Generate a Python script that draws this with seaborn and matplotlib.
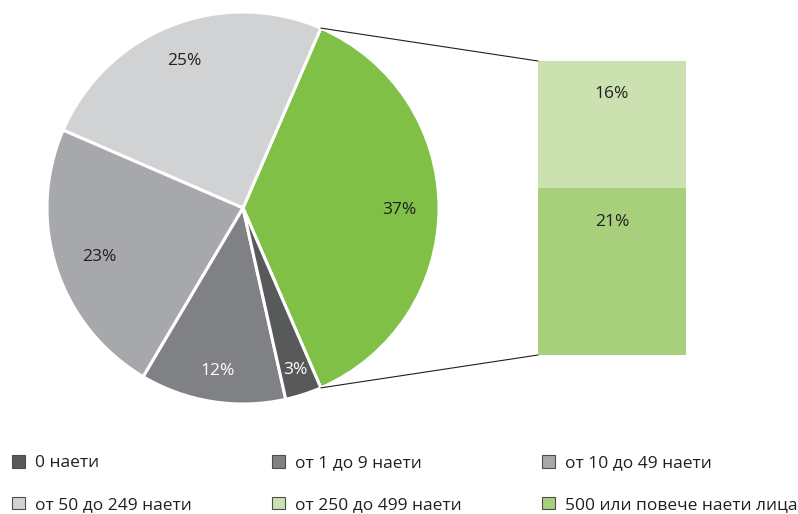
import numpy as np
import matplotlib
matplotlib.use("Agg")
import matplotlib.pyplot as plt
from matplotlib.patches import Patch, ConnectionPatch
import seaborn as sns

# Employment-size groups and their shares (%)
categories = ["0 наети", "от 1 до 9 наети", "от 10 до 49 наети",
              "от 50 до 249 наети", "от 250 до 499 наети",
              "500 или повече наети лица"]
shares = [3, 12, 23, 25, 16, 21]
colors = ["#58595B", "#808184", "#A7A8AB", "#D1D2D4", "#CBE2B0", "#A8CF7C"]
large_color = "#80C047"

sns.set_theme(style="white")
plt.rcParams["font.family"] = ["Open Sans", "DejaVu Sans"]
text_color = "#231F20"
fs = 12.5

W, H = 798, 514
fig = plt.figure(figsize=(W / 100, H / 100), dpi=100)

# --- pie: small groups plus the combined 250+ group ---
large_total = shares[4] + shares[5]
pie_values = [large_total, shares[3], shares[2], shares[1], shares[0]]
pie_colors = [large_color, colors[3], colors[2], colors[1], colors[0]]
label_colors = [text_color, text_color, text_color, "white", "white"]
label_dist = [0.80, 0.82, 0.77, 0.83, 0.86]

ax = fig.add_axes([0, 0, 1, 1])
cx, cy, R = 243, H - 208, 196
start = -large_total / 100 * 360 / 2
wedges, _ = ax.pie(pie_values, colors=pie_colors, startangle=start,
                   counterclock=True, center=(cx, cy), radius=R,
                   wedgeprops=dict(edgecolor="white", linewidth=2.2))
ax.set_xlim(0, W)
ax.set_ylim(0, H)
ax.set_axis_off()

for w, v, tc, d in zip(wedges, pie_values, label_colors, label_dist):
    mid = np.deg2rad((w.theta1 + w.theta2) / 2)
    ax.text(cx + d * R * np.cos(mid), cy + d * R * np.sin(mid) - 2, f"{v}%",
            ha="center", va="center", fontsize=fs, color=tc)

# --- bar: breakdown of the 250+ group ---
bx0, by0, bx1, by1 = 538, 61, 686, 355
axb = fig.add_axes([bx0 / W, (H - by1) / H, (bx1 - bx0) / W, (by1 - by0) / H])
sns.barplot(x=[""], y=[large_total], color=colors[4], saturation=1,
            width=1, linewidth=0, ax=axb)
sns.barplot(x=[""], y=[shares[5]], color=colors[5], saturation=1,
            width=1, linewidth=0, ax=axb)
axb.set_xlim(-0.5, 0.5)
axb.set_ylim(0, large_total)
axb.set_axis_off()
axb.text(0, shares[5] - 4.2, f"{shares[5]}%", ha="center", va="center",
         fontsize=fs, color=text_color)
axb.text(0, large_total - 4.2, f"{shares[4]}%", ha="center", va="center",
         fontsize=fs, color=text_color)

# connector lines from the large wedge to the bar corners
gw = wedges[0]
for ang, yb in [(gw.theta2, large_total), (gw.theta1, 0)]:
    a = np.deg2rad(ang)
    con = ConnectionPatch(xyA=(cx + R * np.cos(a), cy + R * np.sin(a)),
                          coordsA=ax.transData, xyB=(-0.5, yb),
                          coordsB=axb.transData, color="#231F20",
                          linewidth=0.8)
    fig.add_artist(con)

# --- legend: three columns, two rows ---
col_x = [12, 272, 542]
for c in range(3):
    idx = [c, c + 3]
    handles = [Patch(facecolor=colors[i], edgecolor="#4D4D4F", linewidth=0.8)
               for i in idx]
    fig.legend(handles, [categories[i] for i in idx], loc="upper left",
               bbox_to_anchor=(col_x[c] / W, (H - 455) / H), frameon=False,
               fontsize=fs, handlelength=0.75, handleheight=0.75,
               handletextpad=0.55, labelspacing=1.45, borderpad=0,
               borderaxespad=0, labelcolor=text_color)

fig.savefig("out.png", dpi=100)
